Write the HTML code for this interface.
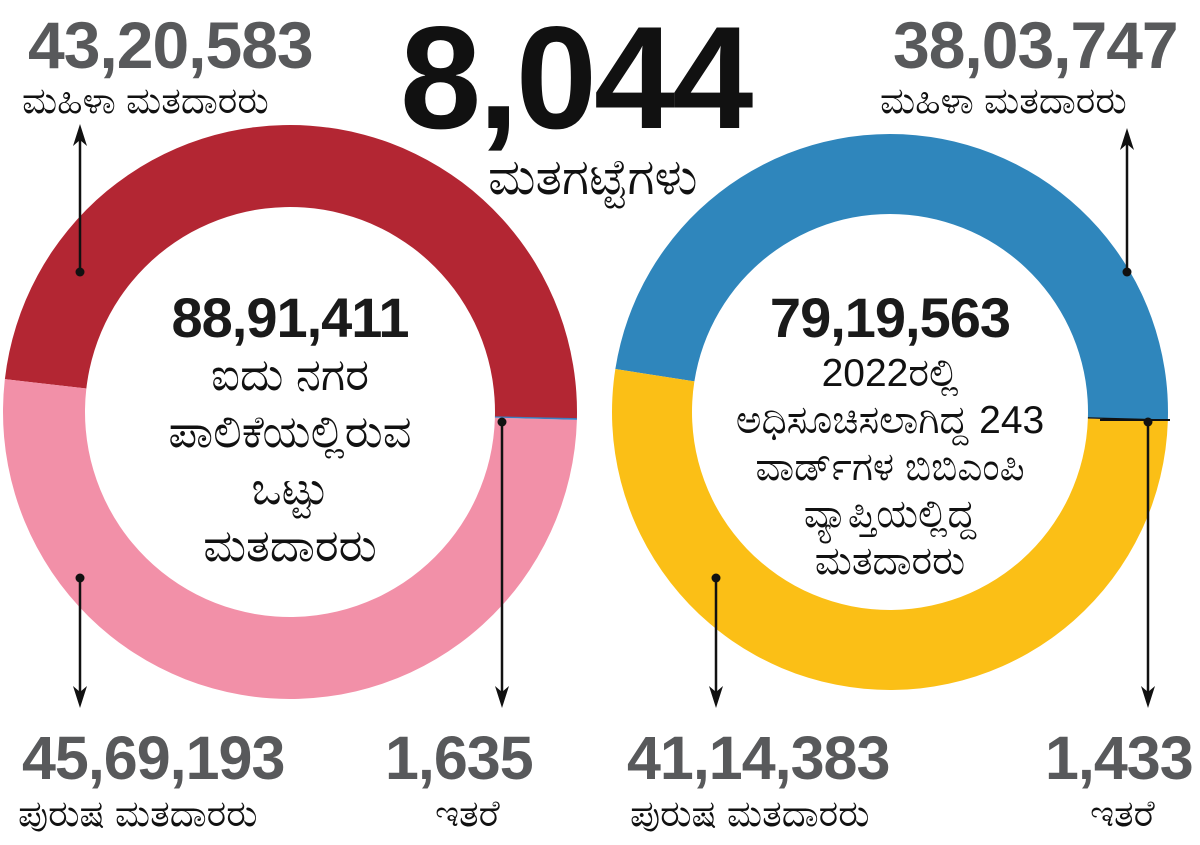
<!DOCTYPE html>
<html><head><meta charset="utf-8">
<style>
html,body{margin:0;padding:0;background:#fff;}
body{width:1200px;height:845px;position:relative;overflow:hidden;font-family:"Liberation Sans","Noto Sans CJK JP",sans-serif;}
.t{position:absolute;white-space:nowrap;line-height:1;}
.big{font-weight:bold;color:#58595b;font-size:66px;letter-spacing:-1px;}
.bot{font-size:61px;}
.lbl{font-size:37px;color:#111;}
.ctr{font-weight:bold;color:#1a1a1a;font-size:56px;letter-spacing:-1px;text-align:center;}
.ctxt{color:#111;text-align:center;}
</style></head>
<body>
<svg id="chart" width="1200" height="845" style="position:absolute;left:0;top:0"></svg>

<div class="t big" style="left:28px;top:12px">43,20,583</div>
<div class="t lbl" style="left:22px;top:82px">ಮಹಿಳಾ ಮತದಾರರು</div>
<div class="t" style="left:400px;top:5px;font-size:146px;font-weight:bold;color:#111;letter-spacing:-3px">8,044</div>
<div class="t lbl" style="left:488px;top:152px;font-size:50px">ಮತಗಟ್ಟೆಗಳು</div>
<div class="t big" style="left:893px;top:12px">38,03,747</div>
<div class="t lbl" style="left:880px;top:82px">ಮಹಿಳಾ ಮತದಾರರು</div>

<div class="t ctr" style="left:140px;width:300px;top:290px">88,91,411</div>
<div class="t ctxt" style="left:110px;width:360px;top:346px;line-height:57px;white-space:normal;font-size:45px">ಐದು ನಗರ<br>ಪಾಲಿಕೆಯಲ್ಲಿರುವ<br>ಒಟ್ಟು<br>ಮತದಾರರು</div>
<div class="t ctr" style="left:740px;width:300px;top:290px">79,19,563</div>
<div class="t ctxt" style="left:690px;width:400px;top:350px;line-height:47px;white-space:normal;font-size:39px">2022ರಲ್ಲಿ<br>ಅಧಿಸೂಚಿಸಲಾಗಿದ್ದ 243<br>ವಾರ್ಡ್‌ಗಳ ಬಿಬಿಎಂಪಿ<br>ವ್ಯಾಪ್ತಿಯಲ್ಲಿದ್ದ<br>ಮತದಾರರು</div>

<div class="t big bot" style="left:22px;top:728px">45,69,193</div>
<div class="t lbl" style="left:18px;top:795px">ಪುರುಷ ಮತದಾರರು</div>
<div class="t big bot" style="left:385px;top:728px">1,635</div>
<div class="t lbl" style="left:435px;top:795px">ಇತರೆ</div>
<div class="t big bot" style="left:627px;top:728px">41,14,383</div>
<div class="t lbl" style="left:630px;top:795px">ಪುರುಷ ಮತದಾರರು</div>
<div class="t big bot" style="left:1045px;top:728px">1,433</div>
<div class="t lbl" style="left:1090px;top:795px">ಇತರೆ</div>

<script>
const categories = ["female","male","other"];
const leftValues = [4320583, 4569193, 1635];
const rightValues = [3803747, 4114383, 1433];
const leftColors = ["#b32633","#f290a8","#3a7fc1"];
const rightColors = ["#2f86bc","#fbbf16","#111111"];

const svg = document.getElementById('chart');
const NS = 'http://www.w3.org/2000/svg';
function pt(cx,cy,r,a){return [cx+r*Math.cos(a), cy-r*Math.sin(a)];}
function drawDonut(vals, colors, cx, cy, R, r, startDeg){
  const total = vals.reduce((a,b)=>a+b,0);
  let a0 = startDeg*Math.PI/180;
  vals.forEach((v,i)=>{
    let sweep = v/total*2*Math.PI;
    if (i===vals.length-1) sweep = Math.max(sweep, 0.006);
    const a1 = a0 + sweep;
    const [x1,y1]=pt(cx,cy,R,a0),[x2,y2]=pt(cx,cy,R,a1),[x3,y3]=pt(cx,cy,r,a1),[x4,y4]=pt(cx,cy,r,a0);
    const large = sweep>Math.PI?1:0;
    const p=document.createElementNS(NS,'path');
    p.setAttribute('d',`M${x1},${y1} A${R},${R} 0 ${large} 0 ${x2},${y2} L${x3},${y3} A${r},${r} 0 ${large} 1 ${x4},${y4} Z`);
    p.setAttribute('fill',colors[i]);
    
    
    svg.appendChild(p);
    a0=a1;
  });
}
drawDonut(leftValues,leftColors,290,412,287,205,-1.5);
drawDonut(rightValues,rightColors,890,412,278,198,-1.8);

function arrow(x,y1,y2){
  const dir = y2>y1?1:-1;
  const l=document.createElementNS(NS,'line');
  l.setAttribute('x1',x);l.setAttribute('y1',y1);l.setAttribute('x2',x);l.setAttribute('y2',y2-dir*10);
  l.setAttribute('stroke','#111');l.setAttribute('stroke-width','2.5');
  
  
  svg.appendChild(l);
  const h=document.createElementNS(NS,'path');
  h.setAttribute('d',`M${x},${y2} L${x-7},${y2-dir*22} L${x},${y2-dir*16} L${x+7},${y2-dir*22} Z`);
  h.setAttribute('fill','#111');
  
  
  svg.appendChild(h);
  const c=document.createElementNS(NS,'circle');
  c.setAttribute('cx',x);c.setAttribute('cy',y1);c.setAttribute('r',4.5);c.setAttribute('fill','#111');
  
  
  svg.appendChild(c);
}
arrow(80,272,124);
arrow(80,578,708);
arrow(502,422,708);
arrow(1127,272,128);
arrow(716,578,708);
arrow(1148,422,708);
const ln=document.createElementNS(NS,'line');
ln.setAttribute('x1',1100);ln.setAttribute('y1',420);ln.setAttribute('x2',1170);ln.setAttribute('y2',420);
ln.setAttribute('stroke','#111');ln.setAttribute('stroke-width','2');


svg.appendChild(ln);
</script>
</body></html>
